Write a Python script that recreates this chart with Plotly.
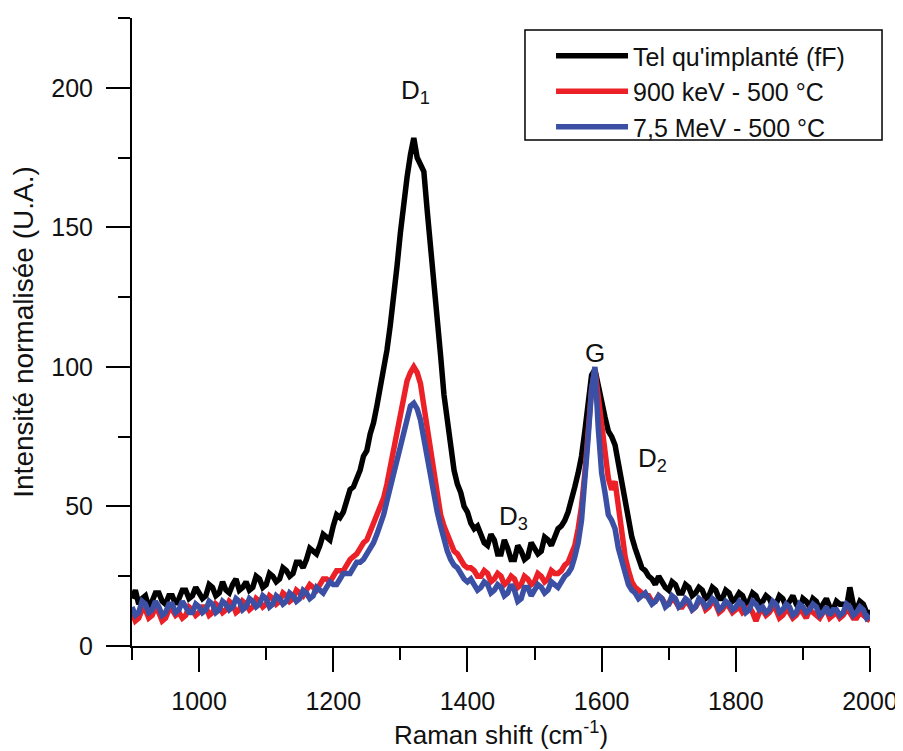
import plotly.graph_objects as go

raman_shift = list(range(900, 2001, 5))

tel_quimplante = [
    17, 20, 15, 17, 18, 14, 16, 19, 19, 16, 15, 18, 18, 15, 17, 20, 20, 17, 18, 21,
    19, 17, 18, 22, 21, 18, 19, 23, 20, 19, 22, 24, 20, 21, 23, 20, 21, 25, 24, 21,
    22, 26, 25, 23, 24, 28, 27, 25, 26, 30, 30, 28, 31, 35, 34, 33, 36, 40, 39, 38,
    43, 47, 46, 48, 52, 56, 57, 60, 63, 68, 70, 76, 80, 86, 92, 99, 106, 115, 128, 136,
    148, 160, 168, 176, 182, 175, 172, 170, 156, 144, 130, 118, 104, 90, 80, 70, 63, 58, 55, 50,
    48, 44, 42, 43, 40, 37, 36, 40, 38, 33, 33, 38, 35, 31, 31, 36, 34, 31, 32, 37,
    35, 33, 34, 39, 38, 36, 39, 42, 43, 45, 48, 52, 57, 62, 68, 77, 88, 97, 99, 93,
    86, 82, 77, 75, 72, 65, 58, 51, 45, 39, 35, 31, 28, 27, 25, 24, 22, 25, 23, 21,
    20, 23, 22, 19, 19, 22, 21, 18, 19, 21, 20, 17, 18, 21, 20, 17, 17, 20, 19, 16,
    17, 19, 18, 15, 16, 19, 18, 15, 16, 18, 17, 14, 15, 18, 17, 14, 16, 18, 15, 13,
    17, 16, 14, 17, 16, 13, 15, 17, 14, 13, 16, 15, 15, 14, 21, 15, 13, 16, 15, 12,
    12,
]

kev900_500 = [
    12, 9, 10, 13, 13, 10, 11, 14, 12, 9, 10, 13, 13, 11, 12, 10, 11, 14, 13, 11,
    12, 14, 14, 11, 12, 15, 14, 12, 13, 16, 15, 12, 13, 16, 15, 13, 14, 17, 16, 14,
    15, 18, 17, 15, 16, 19, 18, 16, 17, 20, 19, 18, 20, 22, 21, 20, 22, 24, 24, 23,
    25, 27, 27, 27, 29, 31, 32, 33, 35, 37, 38, 41, 43, 46, 49, 53, 58, 64, 70, 77,
    84, 90, 95, 98, 100, 98, 94, 86, 78, 68, 60, 52, 47, 43, 40, 37, 34, 33, 31, 29,
    28, 28, 27, 25, 25, 27, 26, 23, 24, 26, 25, 22, 23, 25, 24, 21, 22, 25, 24, 22,
    23, 26, 25, 23, 24, 27, 26, 26, 27, 29, 30, 33, 36, 42, 50, 62, 78, 92, 99, 90,
    80, 70, 60, 56, 59, 50, 40, 32, 27, 23, 21, 20, 19, 18, 18, 16, 16, 18, 17, 15,
    15, 17, 16, 14, 14, 16, 15, 13, 14, 16, 16, 13, 14, 16, 15, 12, 13, 15, 14, 12,
    13, 14, 12, 13, 14, 12, 9, 12, 13, 11, 12, 14, 13, 10, 11, 13, 12, 10, 11, 13,
    12, 10, 13, 12, 11, 10, 12, 13, 10, 11, 12, 10, 11, 13, 12, 10, 10, 12, 11, 10,
    9,
]

mev75_500 = [
    14, 11, 12, 16, 15, 12, 13, 16, 14, 11, 12, 15, 15, 12, 13, 16, 14, 12, 12, 15,
    14, 12, 13, 16, 15, 12, 13, 16, 15, 13, 14, 17, 16, 13, 14, 17, 16, 14, 15, 18,
    17, 14, 15, 18, 17, 15, 16, 19, 18, 16, 17, 20, 19, 17, 18, 21, 20, 19, 21, 23,
    22, 22, 24, 26, 26, 26, 28, 30, 30, 31, 33, 35, 37, 40, 43, 47, 52, 57, 62, 68,
    73, 78, 82, 86, 87, 85, 81, 74, 67, 60, 54, 48, 43, 38, 34, 31, 29, 28, 26, 24,
    23, 24, 22, 20, 21, 23, 22, 19, 20, 22, 21, 18, 19, 22, 20, 16, 17, 21, 21, 18,
    20, 22, 21, 19, 20, 23, 22, 21, 23, 25, 26, 28, 32, 37, 45, 58, 75, 92, 100, 78,
    62, 55, 47, 45, 42, 35, 30, 26, 22, 20, 19, 17, 18, 19, 17, 15, 16, 18, 17, 14,
    15, 18, 17, 14, 15, 17, 16, 13, 14, 17, 16, 14, 15, 17, 16, 13, 14, 16, 15, 13,
    14, 16, 15, 12, 13, 16, 15, 13, 14, 12, 13, 16, 15, 12, 13, 15, 14, 11, 12, 15,
    14, 12, 13, 15, 14, 11, 12, 14, 11, 13, 13, 11, 12, 15, 14, 11, 12, 14, 13, 10,
    11,
]

series_names = ["Tel qu'implanté (fF)", "900 keV - 500 °C", "7,5 MeV - 500 °C"]
series_colors = ["#000000", "#ec2027", "#3b50a4"]
series_values = [tel_quimplante, kev900_500, mev75_500]

x_ticks = [1000, 1200, 1400, 1600, 1800, 2000]
y_ticks = [0, 50, 100, 150, 200]

FONT = "Liberation Sans, Arial, sans-serif"

fig = go.Figure()
for name, color, vals in zip(series_names, series_colors, series_values):
    fig.add_trace(go.Scatter(
        x=raman_shift, y=vals, mode="lines", name=name,
        line=dict(color=color, width=5.5),
    ))

axis_common = dict(
    showline=True, linecolor="black", linewidth=2,
    ticks="outside", tickcolor="black", tickwidth=2, ticklen=24,
    showgrid=False, zeroline=False, mirror=False, automargin=False,
    tickfont=dict(family=FONT, size=25, color="#111"),
)

fig.update_xaxes(
    range=[900, 2000], tickvals=x_ticks,
    minor=dict(ticks="outside", ticklen=12, tickwidth=2, tickcolor="black", dtick=100, tick0=900, showgrid=False),
    title=dict(text="Raman shift (cm<sup>-1</sup>)", font=dict(family=FONT, size=26, color="#111"), standoff=12),
    ticklabelstandoff=8,
    **axis_common,
)
fig.update_yaxes(
    range=[0, 225], tickvals=y_ticks,
    minor=dict(ticks="outside", ticklen=12, tickwidth=2, tickcolor="black", dtick=25, tick0=0, showgrid=False),
    title=dict(text="Intensité normalisée (U.A.)", font=dict(family=FONT, size=28, color="#111"), standoff=9),
    ticklabelstandoff=8,
    **axis_common,
)

ann_font = dict(family=FONT, size=26, color="#111")
annotations = [
    dict(x=1322, y=198.5, text="D<sub>1</sub>"),
    dict(x=1590, y=105, text="G"),
    dict(x=1676, y=67, text="D<sub>2</sub>"),
    dict(x=1469, y=46, text="D<sub>3</sub>"),
]
for a in annotations:
    fig.add_annotation(xref="x", yref="y", showarrow=False, font=ann_font, **a)

# legend frame
fig.add_shape(type="rect", xref="paper", yref="paper",
              x0=0.5325, x1=1.0163, y0=0.8057, y1=0.9809,
              line=dict(color="black", width=1.5), fillcolor="rgba(0,0,0,0)")

# the page adds an 8px body margin, so the figure is 8px smaller than the window
fig.update_layout(
    width=895, height=743,
    margin=dict(l=124, r=33, t=10, b=105),
    paper_bgcolor="white", plot_bgcolor="white",
    showlegend=True,
    legend=dict(
        x=0.5678, y=0.976, xanchor="left", yanchor="top",
        borderwidth=0, bgcolor="rgba(0,0,0,0)",
        font=dict(family=FONT, size=25, color="#111"),
        itemwidth=72, tracegroupgap=0,
    ),
)

fig.write_html("out.html")
